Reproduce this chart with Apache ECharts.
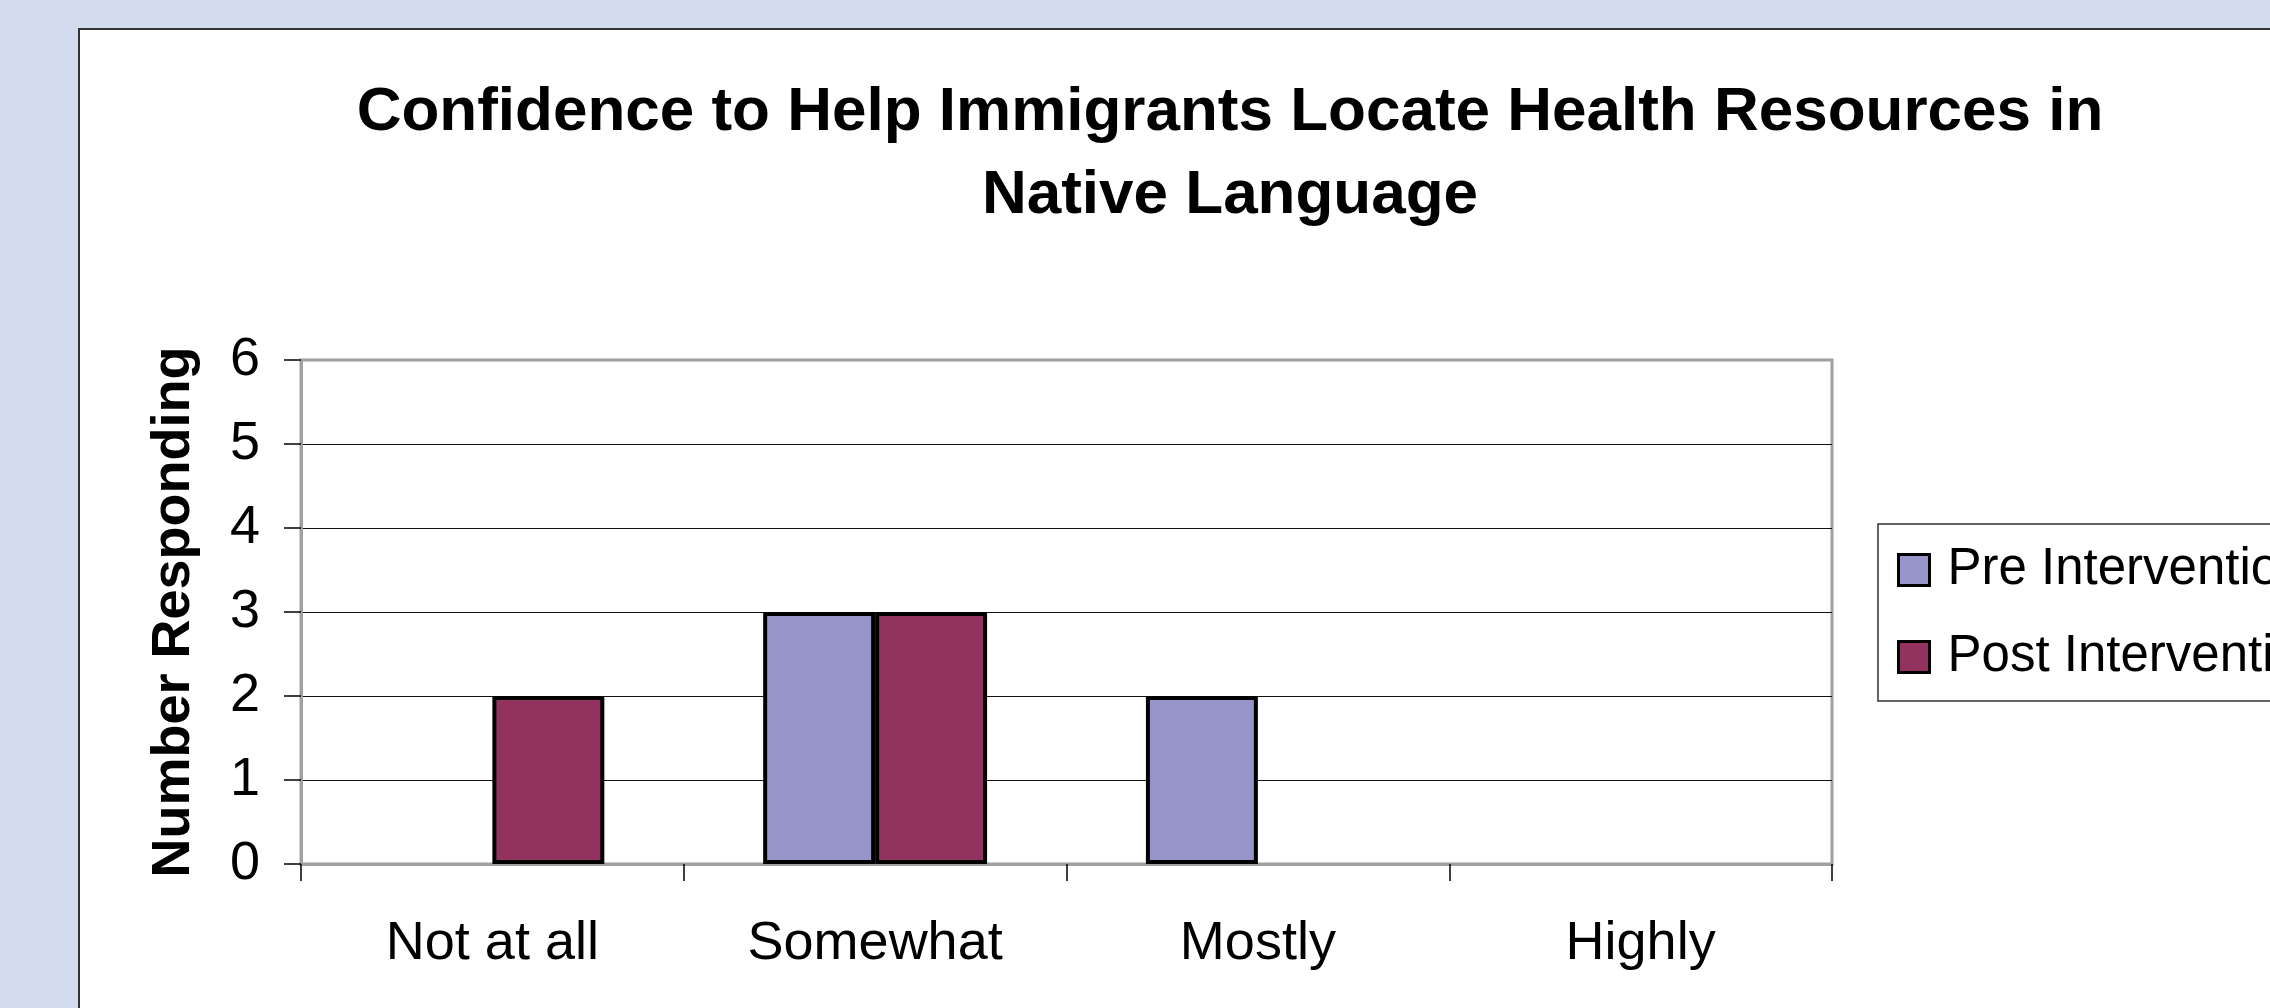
<!DOCTYPE html>
<html>
<head>
<meta charset="utf-8">
<script src="https://cdn.jsdelivr.net/npm/echarts@6/dist/echarts.min.js"></script>
<style>
html,body{margin:0;padding:0;background:#d3dcee;}
#chart{width:2270px;height:1008px;}
</style>
</head>
<body>
<div id="chart"></div>
<script>
const titleText = 'Confidence to Help Immigrants Locate Health Resources in\nNative Language';
const categories = ['Not at all', 'Somewhat', 'Mostly', 'Highly'];
const seriesNames = ['Pre Intervention', 'Post Intervention'];
const preValues = [0, 3, 2, 0];
const postValues = [2, 3, 0, 0];
const yTicks = [0, 1, 2, 3, 4, 5, 6];
const yAxisName = 'Number Responding';

const FONT = '"Liberation Sans", Arial, sans-serif';
const colors = ['#9694c8', '#92325f'];

function toData(arr) {
  return arr.map(v => v === 0 ? { value: v, itemStyle: { borderWidth: 0 } } : v);
}

const chart = echarts.init(document.getElementById('chart'), null, { renderer: 'canvas' });
chart.setOption({
  backgroundColor: '#d3dcee',
  animation: false,
  graphic: [{
    type: 'rect',
    z: -10,
    shape: { x: 79, y: 29, width: 2400, height: 1200 },
    style: { fill: '#ffffff', stroke: '#333333', lineWidth: 2 }
  }],
  title: {
    text: titleText,
    left: 1230,
    top: 71,
    textAlign: 'center',
    padding: 0,
    textStyle: { fontFamily: FONT, fontSize: 62, fontWeight: 'bold', color: '#000', lineHeight: 83 }
  },
  legend: {
    orient: 'vertical',
    left: 1878,
    top: 524,
    padding: [17, 60, 15, 19],
    itemWidth: 31,
    itemHeight: 31,
    itemGap: 29,
    icon: 'rect',
    borderColor: '#333',
    borderWidth: 1.5,
    backgroundColor: '#fff',
    data: seriesNames,
    itemStyle: { borderColor: '#000', borderWidth: 3 },
    textStyle: { fontFamily: FONT, fontSize: 51, color: '#000', lineHeight: 58, padding: [0, 0, 0, 13] }
  },
  grid: {
    left: 301, top: 360, width: 1531, height: 504,
    show: true, backgroundColor: '#fff', borderColor: '#a0a0a0', borderWidth: 3,
    containLabel: false
  },
  xAxis: {
    type: 'category',
    data: categories,
    axisLine: { show: true, lineStyle: { color: '#a0a0a0', width: 3 } },
    axisTick: { show: true, length: 17, lineStyle: { color: '#000', width: 1.5 } },
    axisLabel: { fontFamily: FONT, fontSize: 54, color: '#000', margin: 53 },
    splitLine: { show: false }
  },
  yAxis: {
    type: 'value',
    min: yTicks[0],
    max: yTicks[yTicks.length - 1],
    interval: 1,
    name: yAxisName,
    nameLocation: 'middle',
    nameGap: 100,
    nameTextStyle: { fontFamily: FONT, fontSize: 54, fontWeight: 'bold', color: '#000' },
    axisLine: { show: true, lineStyle: { color: '#a0a0a0', width: 3 } },
    axisTick: { show: true, length: 17, lineStyle: { color: '#000', width: 1.5 } },
    axisLabel: { fontFamily: FONT, fontSize: 54, color: '#000', margin: 41 },
    splitLine: { show: true, showMinLine: false, showMaxLine: false, lineStyle: { color: '#111', width: 1.2 } }
  },
  series: [
    {
      name: seriesNames[0], type: 'bar', data: toData(preValues),
      barGap: '0%', barCategoryGap: '41.5%',
      itemStyle: { color: colors[0], borderColor: '#000', borderWidth: 4 }
    },
    {
      name: seriesNames[1], type: 'bar', data: toData(postValues),
      itemStyle: { color: colors[1], borderColor: '#000', borderWidth: 4 }
    }
  ]
});
</script>
</body>
</html>
